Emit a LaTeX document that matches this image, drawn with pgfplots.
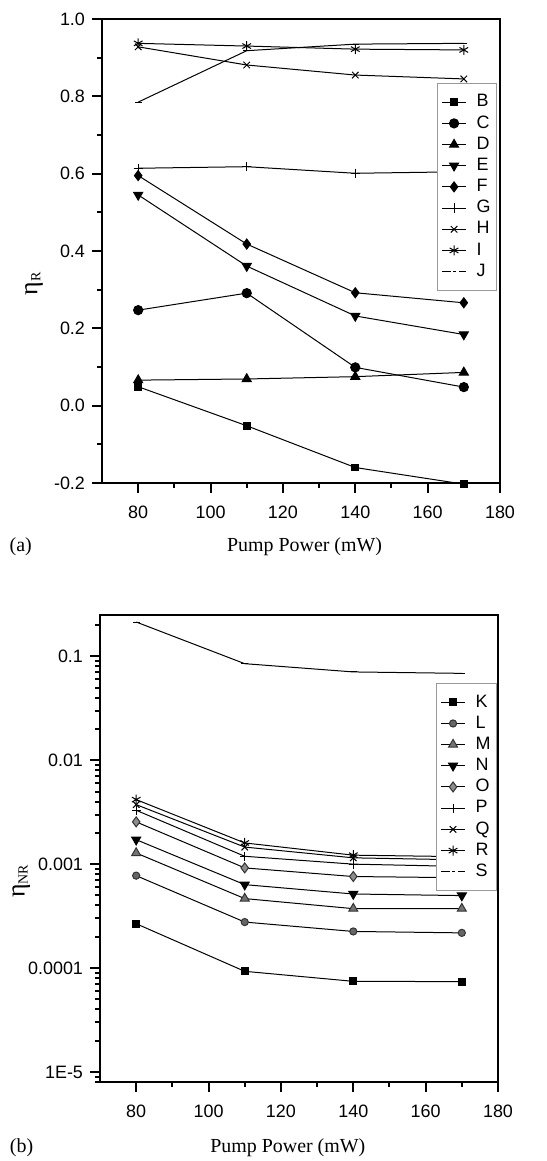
\documentclass[border=0pt]{standalone}
\usepackage{fontspec}
\setmainfont{Liberation Serif}
\newfontfamily\arial{Liberation Sans}
\usepackage{pgfplots}
\pgfplotsset{compat=1.18}

\pgfplotsset{
  mystyle/.style={
    scale only axis,
    width=199bp,
    xmin=70, xmax=180,
    xtick={80,100,120,140,160,180},
    minor xtick={90,110,130,150,170},
    xtick pos=bottom, ytick pos=left,
    tick align=outside,
    axis line style={line width=1bp},
    every tick/.style={black, line width=1bp},
    major tick length=5bp,
    minor tick length=2.5bp,
    /pgf/number format/assume math mode=true,
    ticklabel style={font=\arial\fontsize{9}{10}\selectfont},
    xticklabel style={yshift=-3bp},
    label style={font=\fontsize{10}{12}\selectfont},
    every axis plot/.append style={line width=0.5bp, black, solid},
    legend cell align=left,
    legend image code/.code={\draw[mark repeat=2,mark phase=2] plot coordinates {(0bp,0bp) (6bp,0bp) (12bp,0bp)};},
    legend style={draw=black!40, line width=0.5bp, fill=white,
      font=\arial\fontsize{9}{10}\selectfont,
      inner xsep=2bp, inner ysep=4.5bp, row sep=0.9bp,
      nodes={inner sep=1bp},
      /tikz/every odd column/.append style={column sep=4bp}},
  },
  dashleg/.style={legend image code/.code={\draw[solid, dash pattern=on 4.5bp off 1.2bp on 1.5bp off 1.2bp] (0bp,0bp) -- (12bp,0bp);}},
}

\begin{document}
\begin{tikzpicture}
\useasboundingbox (0,0) rectangle (273.5bp,580.5bp);

% ---------- panel (a)
\begin{axis}[mystyle,
  at={(51bp,339bp)}, anchor=south west,
  height=232bp,
  ymin=-0.2, ymax=1.0,
  ytick={-0.2,0,0.2,0.4,0.6,0.8,1.0},
  yticklabels={-0.2,0.0,0.2,0.4,0.6,0.8,1.0},
  minor ytick={-0.1,0.1,0.3,0.5,0.7,0.9},
  clip=false,
  xlabel={Pump Power (mW)},
  xlabel style={at={(axis description cs:0.509,-0.138)}, anchor=center},
  ylabel={{\fontsize{13}{14}\selectfont η}\raisebox{-0.35ex}{\fontsize{7}{8}\selectfont R}},
  ylabel style={at={(axis description cs:-0.171,0.429)}, anchor=center},
  legend style={at={(axis description cs:0.9925,0.862)}, anchor=north east},
]
\addplot[mark=square*, mark size=1.7bp] coordinates {(80,0.049) (110,-0.052) (140,-0.160) (170,-0.203)};
\addlegendentry{B}
\addplot[mark=*, mark size=2.3bp] coordinates {(80,0.247) (110,0.291) (140,0.099) (170,0.048)};
\addlegendentry{C}
\addplot[mark=triangle*, mark size=2.6bp] coordinates {(80,0.066) (110,0.069) (140,0.075) (170,0.086)};
\addlegendentry{D}
\addplot[mark=triangle*, mark size=2.6bp, mark options={rotate=180}] coordinates {(80,0.545) (110,0.361) (140,0.232) (170,0.184)};
\addlegendentry{E}
\addplot[mark=diamond*, mark size=2.5bp] coordinates {(80,0.595) (110,0.418) (140,0.292) (170,0.266)};
\addlegendentry{F}
\addplot[mark=+, mark size=2.3bp] coordinates {(80,0.614) (110,0.618) (140,0.601) (170,0.605)};
\addlegendentry{G}
\addplot[mark=x, mark size=2.3bp] coordinates {(80,0.928) (110,0.881) (140,0.855) (170,0.845)};
\addlegendentry{H}
\addplot[mark=asterisk, mark size=2.5bp] coordinates {(80,0.937) (110,0.930) (140,0.922) (170,0.920)};
\addlegendentry{I}
\addplot[mark=-, mark size=1.8bp, dashleg] coordinates {(80,0.785) (110,0.918) (140,0.935) (170,0.937)};
\addlegendentry{J}
\end{axis}
\node[font=\fontsize{10}{12}\selectfont] at (10.4bp,307bp) {(a)};

% ---------- panel (b)
\begin{axis}[mystyle,
  at={(50bp,39.5bp)}, anchor=south west,
  height=233.5bp,
  ymode=log,
  ymin=8e-6, ymax=0.25,
  ytick={1e-5,1e-4,1e-3,1e-2,1e-1},
  yticklabels={1E-5,0.0001,0.001,0.01,0.1},
  minor ytick={8e-6,9e-6,2e-5,3e-5,4e-5,5e-5,6e-5,7e-5,8e-5,9e-5,2e-4,3e-4,4e-4,5e-4,6e-4,7e-4,8e-4,9e-4,2e-3,3e-3,4e-3,5e-3,6e-3,7e-3,8e-3,9e-3,2e-2,3e-2,4e-2,5e-2,6e-2,7e-2,8e-2,9e-2,2e-1},
  xlabel={Pump Power (mW)},
  xlabel style={at={(axis description cs:0.472,-0.141)}, anchor=center},
  ylabel={{\fontsize{13}{14}\selectfont η}\raisebox{-0.35ex}{\fontsize{7}{8}\selectfont NR}},
  ylabel style={at={(axis description cs:-0.198,0.430)}, anchor=center},
  legend style={at={(axis description cs:0.9975,0.854)}, anchor=north east},
]
\addplot[mark=square*, mark size=1.7bp] coordinates {(80,2.67e-4) (110,9.3e-5) (140,7.45e-5) (170,7.4e-5)};
\addlegendentry{K}
\addplot[mark=*, mark size=1.8bp, mark options={fill=black!60, draw=black!80}] coordinates {(80,7.75e-4) (110,2.77e-4) (140,2.25e-4) (170,2.18e-4)};
\addlegendentry{L}
\addplot[mark=triangle*, mark size=2.6bp, mark options={fill=black!55, draw=black!80}] coordinates {(80,1.28e-3) (110,4.66e-4) (140,3.73e-4) (170,3.73e-4)};
\addlegendentry{M}
\addplot[mark=triangle*, mark size=2.6bp, mark options={rotate=180}] coordinates {(80,1.72e-3) (110,6.35e-4) (140,5.16e-4) (170,4.98e-4)};
\addlegendentry{N}
\addplot[mark=diamond*, mark size=2.5bp, mark options={fill=black!45, draw=black!80}] coordinates {(80,2.55e-3) (110,9.2e-4) (140,7.6e-4) (170,7.4e-4)};
\addlegendentry{O}
\addplot[mark=+, mark size=2.3bp] coordinates {(80,3.3e-3) (110,1.19e-3) (140,1.0e-3) (170,9.5e-4)};
\addlegendentry{P}
\addplot[mark=x, mark size=2.3bp] coordinates {(80,3.74e-3) (110,1.46e-3) (140,1.15e-3) (170,1.1e-3)};
\addlegendentry{Q}
\addplot[mark=asterisk, mark size=2.5bp] coordinates {(80,4.18e-3) (110,1.6e-3) (140,1.22e-3) (170,1.18e-3)};
\addlegendentry{R}
\addplot[mark=-, mark size=1.8bp, dashleg] coordinates {(80,0.214) (110,0.085) (140,0.0708) (170,0.0686)};
\addlegendentry{S}
\end{axis}
\node[font=\fontsize{10}{12}\selectfont] at (10.8bp,6.5bp) {(b)};
\end{tikzpicture}
\end{document}
